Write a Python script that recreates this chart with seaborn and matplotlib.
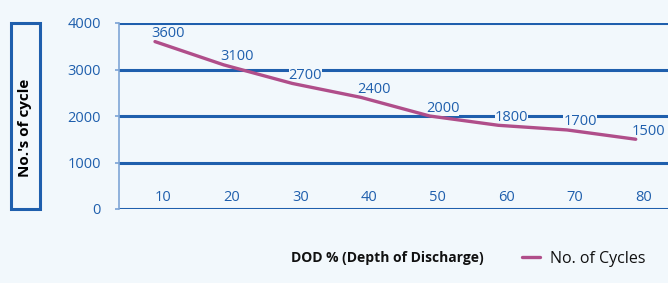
import matplotlib
matplotlib.use("Agg")
import matplotlib.pyplot as plt
import matplotlib.transforms as mtransforms
from matplotlib.patches import Rectangle
import pandas as pd
import seaborn as sns

dod = [10, 20, 30, 40, 50, 60, 70, 80]
cycles = [3600, 3100, 2700, 2400, 2000, 1800, 1700, 1500]
y_ticks = [0, 1000, 2000, 3000, 4000]

bg = "#F2F8FC"
blue = "#1F5FAD"
line_col = "#B04E8A"

sns.set_theme(style="white")
plt.rcParams["font.family"] = ["Open Sans", "DejaVu Sans"]

df = pd.DataFrame({"pos": range(len(dod)), "DOD": dod, "Cycles": cycles})

fig = plt.figure(figsize=(6.68, 2.83), dpi=100, facecolor=bg)
ax = fig.add_axes([119 / 668, 1 - 209 / 283, 1 - 119 / 668, 186 / 283])
ax.set_facecolor(bg)

sns.lineplot(data=df, x="pos", y="Cycles", ax=ax, color=line_col, linewidth=2.4,
             label="No. of Cycles", legend=False, zorder=3)

ax.set_xlim(-0.524, 7.47)
ax.set_ylim(0, 4000)
ax.set_yticks(y_ticks)
ax.set_yticklabels([str(v) for v in y_ticks], color=blue, fontsize=10.5)
for v in y_ticks:
    ax.axhline(v, color=blue, linewidth=2.2, zorder=1)

ax.set_xticks(df["pos"])
ax.set_xticklabels([str(v) for v in dod], color=blue, fontsize=10.5)
ax.tick_params(axis="x", length=0, pad=-14)
ax.tick_params(axis="y", length=3, color="#7FA6D6", pad=10, left=True)
shift = mtransforms.ScaledTranslation(8 / 100, 0, fig.dpi_scale_trans)
for lbl in ax.get_xticklabels():
    lbl.set_transform(lbl.get_transform() + shift)

for s in ["top", "right", "bottom"]:
    ax.spines[s].set_visible(False)
ax.spines["left"].set_color("#7FA6D6")
ax.spines["left"].set_linewidth(1.2)

for p, c in zip(df["pos"], cycles):
    ax.annotate(str(c), (p, c), xytext=(13, 8), textcoords="offset pixels",
                ha="center", va="center", color=blue, fontsize=10.5, zorder=2,
                bbox=dict(boxstyle="square,pad=0.0", fc=bg, ec="none"))

ax.set_xlabel("")
ax.set_ylabel("")

# y-axis title box
fig.patches.append(Rectangle((11 / 668, 1 - 209 / 283), 29 / 668, 186 / 283,
                             transform=fig.transFigure, fill=False,
                             edgecolor=blue, linewidth=2.2))
fig.text(25.5 / 668, 1 - 128 / 283, "No.'s of cycle", rotation=90, ha="center",
         va="center", fontsize=11, fontweight="bold", color="black")

fig.text(387 / 668, 1 - 258 / 283, "DOD % (Depth of Discharge)", ha="center",
         va="center", fontsize=10, fontweight="bold", color="#111111")

handles, labels = ax.get_legend_handles_labels()
fig.legend(handles, labels, loc="center left", bbox_to_anchor=(508 / 668, 1 - 259 / 283),
           frameon=False, fontsize=11.5, handlelength=1.1, handletextpad=0.6,
           labelcolor="#111111")

fig.savefig("out.png", dpi=100, facecolor=bg)
